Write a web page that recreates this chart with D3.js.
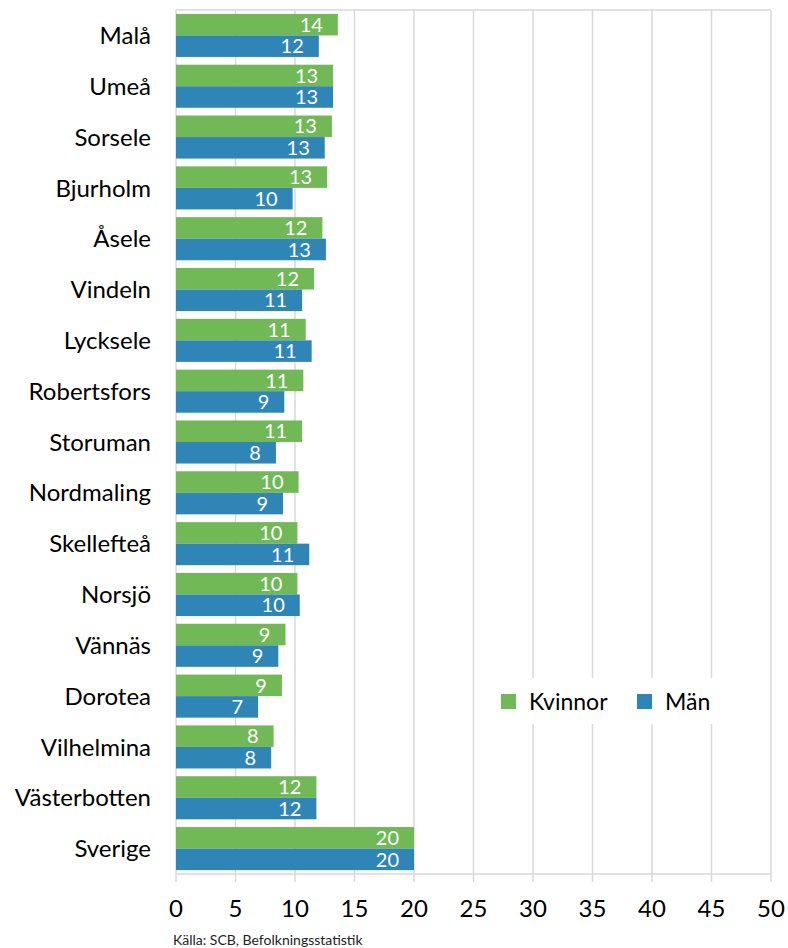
<!DOCTYPE html>
<html>
<head>
<meta charset="utf-8">
<script src="https://cdn.jsdelivr.net/npm/d3@7"></script>
<style>
  body { margin: 0; background: #fff; }
  text { font-family: Lato, "Open Sans", sans-serif; }
</style>
</head>
<body>
<div id="chart"></div>
<script>
// kommuner, top to bottom
var categories = ['Malå', 'Umeå', 'Sorsele', 'Bjurholm', 'Åsele', 'Vindeln', 'Lycksele',
                  'Robertsfors', 'Storuman', 'Nordmaling', 'Skellefteå', 'Norsjö', 'Vännäs',
                  'Dorotea', 'Vilhelmina', 'Västerbotten', 'Sverige'];
var kvinnor = [13.6, 13.2, 13.1, 12.7, 12.3, 11.6, 10.9, 10.7, 10.6, 10.3, 10.2, 10.2, 9.2, 8.9, 8.2, 11.8, 20.0];
var man     = [12.0, 13.2, 12.5, 9.8, 12.6, 10.6, 11.4, 9.1, 8.4, 9.0, 11.2, 10.4, 8.6, 6.9, 8.0, 11.8, 20.0];
var xTicks  = [0, 5, 10, 15, 20, 25, 30, 35, 40, 45, 50];
var seriesNames = ['Kvinnor', 'Män'];

var WIDTH = 788, HEIGHT = 948;
var LEFT = 176, RIGHT = 771, TOP = 10, BOTTOM = 874;
var GREEN = '#71b857', BLUE = '#2f86b6', GRID = '#d9d9d9';

var svg = d3.select('#chart').append('svg')
            .attr('width', WIDTH)
            .attr('height', HEIGHT);

var x = d3.scaleLinear().domain([0, 50]).range([LEFT, RIGHT]);
var y = d3.scaleBand().domain(categories).range([TOP, BOTTOM]);
var sub = d3.scaleBand().domain(seriesNames)
            .range([0, y.bandwidth()]).paddingOuter(0.18);

// gridlines
svg.append('g').selectAll('line')
   .data(xTicks)
   .enter()
   .append('line')
   .attr('x1', function(d) { return x(d); })
   .attr('x2', function(d) { return x(d); })
   .attr('y1', TOP)
   .attr('y2', BOTTOM + 8)
   .attr('stroke', GRID)
   .attr('stroke-width', 1.5);

// top and bottom border lines
svg.append('g').selectAll('line')
   .data([TOP, BOTTOM])
   .enter()
   .append('line')
   .attr('x1', LEFT)
   .attr('x2', RIGHT)
   .attr('y1', function(d) { return d; })
   .attr('y2', function(d) { return d; })
   .attr('stroke', GRID)
   .attr('stroke-width', 1.5);

// bars
var rows = categories.map(function(c, i) {
    return [
        { cat : c, s : 'Kvinnor', v : kvinnor[i], fill : GREEN },
        { cat : c, s : 'Män',     v : man[i],     fill : BLUE  }
    ];
});

var groups = svg.append('g').selectAll('g')
                .data(rows)
                .enter()
                .append('g')
                .attr('transform', function(d) { return 'translate(0,' + y(d[0].cat) + ')'; });

groups.selectAll('rect')
      .data(function(d) { return d; })
      .enter()
      .append('rect')
      .attr('x', x(0))
      .attr('y', function(d) { return sub(d.s); })
      .attr('width', function(d) { return x(d.v) - x(0); })
      .attr('height', sub.bandwidth())
      .attr('fill', function(d) { return d.fill; });

// data labels, inside end
groups.selectAll('text')
      .data(function(d) { return d; })
      .enter()
      .append('text')
      .attr('x', function(d) { return x(d.v) - 15; })
      .attr('y', function(d) { return sub(d.s) + sub.bandwidth() / 2; })
      .attr('dy', '0.36em')
      .attr('text-anchor', 'end')
      .attr('fill', '#fff')
      .style('font-size', '20px')
      .text(function(d) { return Math.round(d.v); });

// category labels
svg.append('g').selectAll('text')
   .data(categories)
   .enter()
   .append('text')
   .attr('x', 151)
   .attr('y', function(d) { return y(d) + y.bandwidth() / 2; })
   .attr('dy', '0.36em')
   .attr('text-anchor', 'end')
   .attr('fill', '#000')
   .style('font-size', '24px')
   .text(function(d) { return d; });

// x tick labels
svg.append('g').selectAll('text')
   .data(xTicks)
   .enter()
   .append('text')
   .attr('x', function(d) { return x(d); })
   .attr('y', 917)
   .attr('text-anchor', 'middle')
   .attr('fill', '#000')
   .style('font-size', '24px')
   .text(function(d) { return d; });

// legend with white background
var legend = svg.append('g');
legend.append('rect')
      .attr('x', 490).attr('y', 678)
      .attr('width', 232).attr('height', 46)
      .attr('fill', '#fff');

var legendItems = [
    { name : seriesNames[0], fill : GREEN, x : 501 },
    { name : seriesNames[1], fill : BLUE,  x : 637 }
];
legend.selectAll('rect.key')
      .data(legendItems)
      .enter()
      .append('rect')
      .attr('class', 'key')
      .attr('x', function(d) { return d.x; })
      .attr('y', 694)
      .attr('width', 15)
      .attr('height', 15)
      .attr('fill', function(d) { return d.fill; });
legend.selectAll('text')
      .data(legendItems)
      .enter()
      .append('text')
      .attr('x', function(d) { return d.x + 28; })
      .attr('y', 701.5)
      .attr('dy', '0.36em')
      .attr('fill', '#000')
      .style('font-size', '23px')
      .text(function(d) { return d.name; });

// source note
svg.append('text')
   .attr('x', 173)
   .attr('y', 945)
   .attr('fill', '#222')
   .style('font-size', '14px')
   .text('Källa: SCB, Befolkningsstatistik');
</script>
</body>
</html>
